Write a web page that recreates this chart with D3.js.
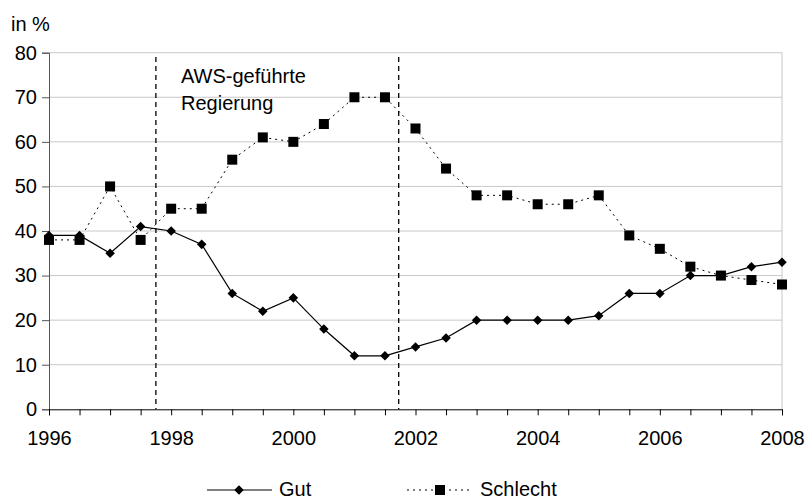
<!DOCTYPE html>
<html><head><meta charset="utf-8">
<script src="https://cdn.jsdelivr.net/npm/d3@7/dist/d3.min.js"></script>
<style>body{margin:0;background:#fff;} text{font-family:"Liberation Sans",Arial,sans-serif;fill:#000;}</style>
</head><body>
<svg id="c" width="806" height="498"></svg>
<script>
const periods = d3.range(25); // half-year steps from 1996 to 2008
const yearLabels = ["1996","1998","2000","2002","2004","2006","2008"];
const gut = [39,39,35,41,40,37,26,22,25,18,12,12,14,16,20,20,20,20,21,26,26,30,30,32,33];
const schlecht = [38,38,50,38,45,45,56,61,60,64,70,70,63,54,48,48,46,46,48,39,36,32,30,29,28];
const yTicks = [0,10,20,30,40,50,60,70,80];
const awsPeriod = [3.5, 11.45];
const seriesNames = ["Gut","Schlecht"];

const FS = "20px";
const svg = d3.select("#c");
const x = d3.scaleLinear().domain([0,24]).range([49,782]);
const y = d3.scaleLinear().domain([0,80]).range([409.3,52.7]);

// gridlines
svg.append("g").selectAll("line").data(yTicks.filter(d=>d>0)).join("line")
  .attr("x1",49).attr("x2",782).attr("y1",d=>y(d)).attr("y2",d=>y(d))
  .attr("stroke","#c8c8c8").attr("stroke-width",1);
// right border
svg.append("line").attr("x1",782).attr("x2",782).attr("y1",y(80)).attr("y2",y(0))
  .attr("stroke","#c8c8c8").attr("stroke-width",1);

// y axis
const yAxis = svg.append("g").attr("transform","translate(49,0)")
  .call(d3.axisLeft(y).tickValues(yTicks).tickSize(7).tickPadding(5));
yAxis.select(".domain").attr("stroke","#555");
yAxis.selectAll(".tick line").attr("stroke","#555");
yAxis.selectAll("text").attr("font-size",FS).attr("font-family","Liberation Sans, Arial, sans-serif").attr("fill","#000");

// x axis
const xAxis = svg.append("g").attr("transform","translate(0,409.3)")
  .call(d3.axisBottom(x).tickValues(periods).tickSize(6).tickPadding(16)
    .tickFormat(d => d%4===0 ? yearLabels[d/4] : ""));
xAxis.select(".domain").attr("stroke","#000");
xAxis.selectAll(".tick line").attr("stroke","#000");
xAxis.selectAll("text").attr("font-size",FS).attr("font-family","Liberation Sans, Arial, sans-serif").attr("fill","#000");

// AWS period lines
svg.append("g").selectAll("line").data(awsPeriod).join("line")
  .attr("x1",d=>x(d)).attr("x2",d=>x(d)).attr("y1",57).attr("y2",y(0))
  .attr("stroke","#000").attr("stroke-width",1.3).attr("stroke-dasharray","5,4");

svg.append("text").attr("x",181).attr("y",83).attr("font-size",FS).text("AWS-geführte");
svg.append("text").attr("x",181).attr("y",110).attr("font-size",FS).text("Regierung");
svg.append("text").attr("x",11).attr("y",30.5).attr("font-size",FS).text("in %");

const line = d3.line().x((d,i)=>x(i)).y(d=>y(d));
svg.append("path").datum(schlecht).attr("d",line).attr("fill","none")
  .attr("stroke","#000").attr("stroke-width",1).attr("stroke-dasharray","2,4");
svg.append("path").datum(gut).attr("d",line).attr("fill","none")
  .attr("stroke","#000").attr("stroke-width",1.2);

const sq = 10;
svg.append("g").selectAll("rect").data(schlecht).join("rect")
  .attr("x",(d,i)=>x(i)-sq/2).attr("y",d=>y(d)-sq/2).attr("width",sq).attr("height",sq).attr("fill","#000");
const diamond = d3.symbol().type(d3.symbolDiamond2).size(58);
svg.append("g").selectAll("path").data(gut).join("path")
  .attr("transform",(d,i)=>`translate(${x(i)},${y(d)})`).attr("d",diamond).attr("fill","#000");

// legend
const lg = svg.append("g");
lg.append("line").attr("x1",207).attr("x2",272).attr("y1",490).attr("y2",490).attr("stroke","#000").attr("stroke-width",1.2);
lg.append("path").attr("transform","translate(239,490)").attr("d",diamond).attr("fill","#000");
lg.append("text").attr("x",279).attr("y",496).attr("font-size",FS).text(seriesNames[0]);
lg.append("line").attr("x1",407).attr("x2",472).attr("y1",490).attr("y2",490).attr("stroke","#000").attr("stroke-width",1).attr("stroke-dasharray","2,4");
lg.append("rect").attr("x",440-sq/2).attr("y",490-sq/2).attr("width",sq).attr("height",sq).attr("fill","#000");
lg.append("text").attr("x",480).attr("y",496).attr("font-size",FS).text(seriesNames[1]);
</script>
</body></html>
